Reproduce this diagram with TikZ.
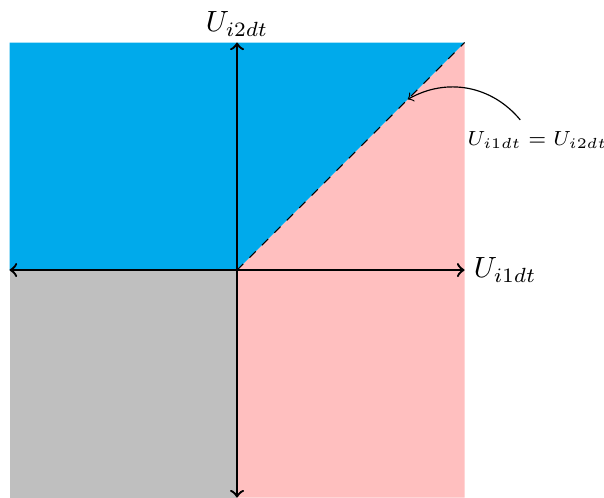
\documentclass[tikz,border=0pt]{standalone}
\usepackage{amsmath}
\usetikzlibrary{positioning}
\definecolor{RegionBlue}{HTML}{00AAEB}
\definecolor{RegionPink}{HTML}{FFBFBF}
\definecolor{RegionGray}{HTML}{BFBFBF}

\begin{document}
\begin{tikzpicture}[x=1.365cm, y=1.365cm,
  axis/.style={<->, thick},
  lbl/.style={inner sep=2pt}]
  \useasboundingbox (-2.084,-1.996) rectangle (3.226,2.374);
  % regions
  \fill[RegionGray] (-2,-2) rectangle (0,0);
  \fill[RegionPink] (0,-2) -- (2,-2) -- (2,2) -- (0,0) -- cycle;
  \fill[RegionBlue] (-2,0) -- (-2,2) -- (2,2) -- (0,0) -- cycle;
  % axes
  \coordinate (O) at (0,0);
  \coordinate (xl) at (-2,0);
  \coordinate (xr) at (2,0);
  \coordinate (yb) at (0,-2);
  \coordinate (yt) at (0,2);
  \coordinate (diag) at (2,2);
  \draw[dashed] (O) -- (diag);
  \draw[axis] (xl) -- (xr);
  \draw[axis] (yb) -- (yt);
  \node[lbl, right=1pt of xr] (xlab) {$U_{i1dt}$};
  \node[lbl, above=0pt of yt] (ylab) {$U_{i2dt}$};
  % annotation
  \coordinate (onDiag) at (1.5,1.5);
  \coordinate (eqs) at (2.49,1.32);
  \node[lbl, font=\scriptsize] (eq) at (2.64,1.14) {$U_{i1dt}=U_{i2dt}$};
  \draw[->] (eqs) to[bend right=40] (onDiag);
\end{tikzpicture}
\end{document}
